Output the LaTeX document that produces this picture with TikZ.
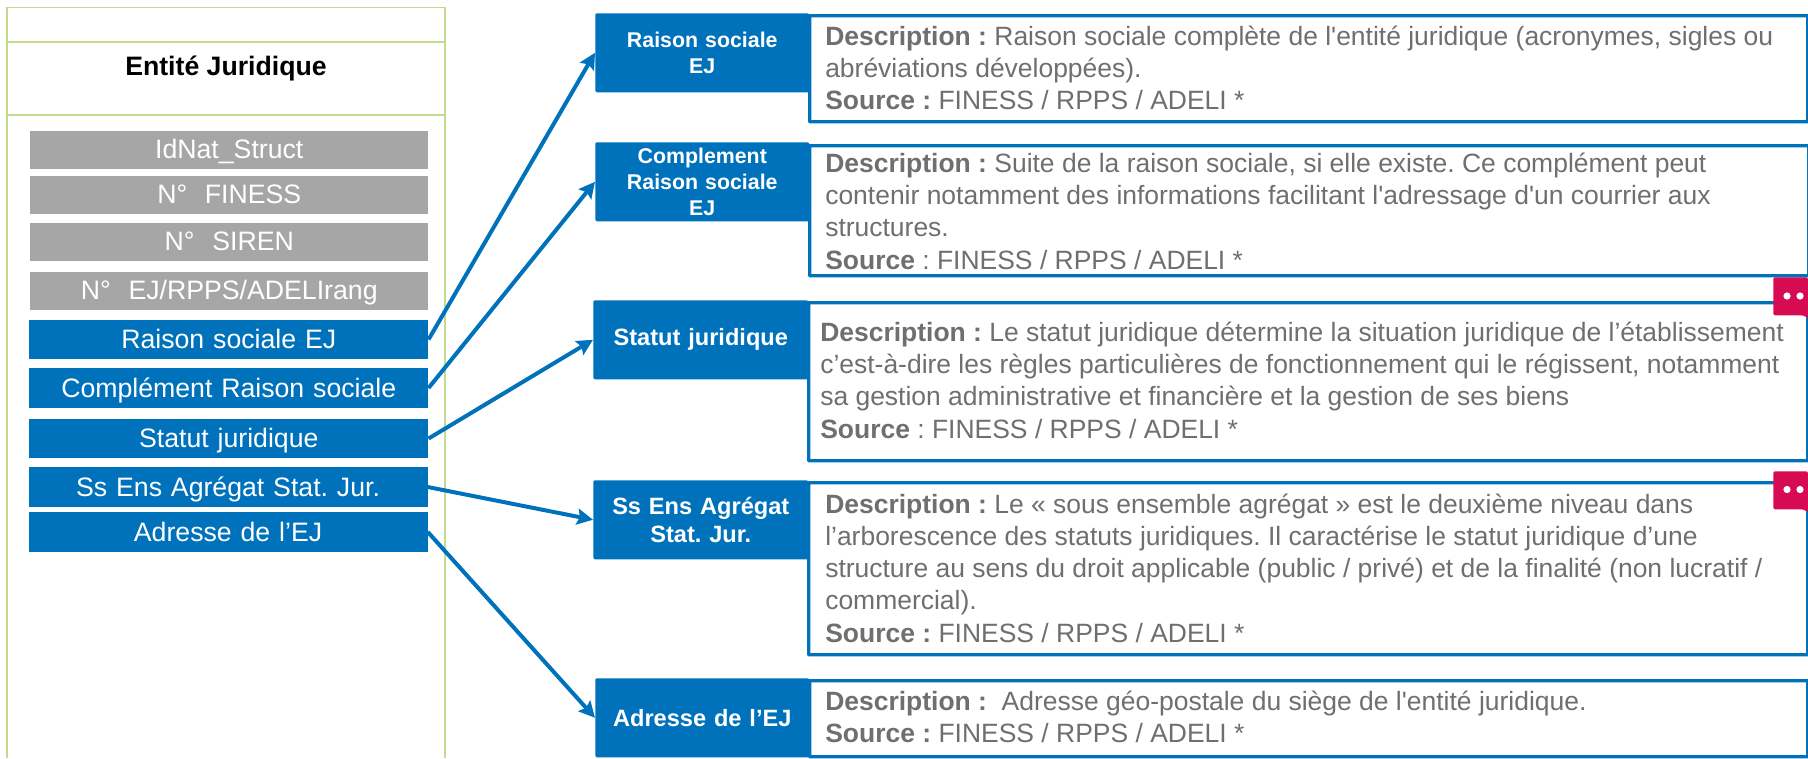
\documentclass[tikz,border=0pt]{standalone}
\usepackage{fontspec}
\setmainfont{Liberation Sans}[Ligatures=TeXOff]
\usetikzlibrary{arrows.meta}
\definecolor{bleu}{HTML}{0072BB}
\definecolor{gris}{HTML}{A6A6A6}
\definecolor{vert}{HTML}{C3DC8C}
\definecolor{txt}{HTML}{6F6F6F}
\definecolor{rose}{HTML}{D60B52}
\tikzset{
 x=0.75pt,y=-0.75pt,
 greyfield/.style={fill=gris,text=white,inner sep=0,text height=16.75pt,text depth=4pt,font=\fontsize{20}{24}\selectfont},
 bluefield/.style={fill=bleu,text=white,inner sep=0,text height=17.5pt,text depth=4pt,font=\fontsize{20}{24}\selectfont},
 head/.style={fill=bleu,text=white,inner sep=0,rounded corners=1pt,align=center,font=\fontsize{16}{19.5}\selectfont\bfseries},
 headbig/.style={head,font=\fontsize{17.7}{21}\selectfont\bfseries},
 descbox/.style={draw=bleu,line width=2.6pt,fill=white,inner sep=0,rounded corners=0.5pt},
 desctext/.style={text=txt,anchor=west,align=left,inner sep=0,font=\fontsize{19.85}{24.2}\selectfont},
 link/.style={draw=bleu,line width=3pt,-{Stealth[length=12pt,width=12pt,inset=2pt]}},
 pastille/.style={fill=rose,rounded corners=1.5pt,inner sep=0,minimum width=26pt,minimum height=28.5pt},
 frame/.style={draw=vert,line width=1.3pt},
}
\newcommand{\rectnode}[6]{\node[#1,minimum width=#4*0.75pt,minimum height=#5*0.75pt,text width=#4*0.75pt,align=center,anchor=north west] (#2) at #3 {#6};}
\begin{document}
\frenchspacing
\begin{tikzpicture}
\useasboundingbox (0,0) rectangle (1808,758);
\fill[white] (0,0) rectangle (1808,758);
% left frame
\draw[frame] (7,758) -- (7,7.5) -- (445,7.5) -- (445,758);
\draw[frame] (7,42) -- (445,42);
\draw[frame] (7,115) -- (445,115);
\node[font=\fontsize{20}{24}\selectfont\bfseries,inner sep=0] (titre) at (226,68) {Entité Juridique};
% grey fields
\rectnode{greyfield}{g1}{(30,131)}{398}{38}{IdNat\_Struct}
\rectnode{greyfield}{g2}{(30,176)}{398}{38}{N°\ \ FINESS}
\rectnode{greyfield}{g3}{(30,223)}{398}{38}{N°\ \ SIREN}
\rectnode{greyfield}{g4}{(30,272)}{398}{38}{N°\ \ EJ/RPPS/ADELIrang}
% blue fields
\rectnode{bluefield}{b1}{(29,319.5)}{399}{39.5}{Raison sociale EJ}
\rectnode{bluefield}{b2}{(29,368)}{399}{39.5}{Complément Raison sociale}
\rectnode{bluefield}{b3}{(29,418.5)}{399}{39.5}{Statut juridique}
\rectnode{bluefield}{b4}{(28.3,467)}{399}{39.5}{Ss Ens Agrégat Stat. Jur.}
\rectnode{bluefield}{b5}{(28.3,512)}{399}{39.5}{Adresse de l’EJ}
% description boxes
\node[descbox,minimum width=998*0.75pt,minimum height=106*0.75pt,anchor=north west] (d1) at (808,14) {};
\node[descbox,minimum width=999*0.75pt,minimum height=130*0.75pt,anchor=north west] (d2) at (808,144) {};
\node[descbox,minimum width=999*0.75pt,minimum height=158*0.75pt,anchor=north west] (d3) at (807,301) {};
\node[descbox,minimum width=999*0.75pt,minimum height=172*0.75pt,anchor=north west] (d4) at (807,481) {};
\node[descbox,minimum width=998*0.75pt,minimum height=76*0.75pt,anchor=north west] (d5) at (808,679) {};
% heads
\rectnode{head}{h1}{(595,13)}{214}{79}{Raison sociale\\EJ}
\rectnode{head}{h2}{(595,142)}{214}{79}{Complement\\Raison sociale\\EJ}
\rectnode{headbig}{h3}{(593,300)}{215}{79}{\raisebox{2.2pt}{Statut juridique}}
\rectnode{headbig}{h4}{(593,480)}{215}{79}{Ss Ens Agrégat\\Stat. Jur.}
\rectnode{headbig}{h5}{(595,678)}{214}{79}{Adresse de l’EJ}
% texts
\node[desctext] (t1) at (825,68) {\textbf{Description :} Raison sociale complète de l'entité juridique (acronymes, sigles ou\\abréviations développées).\\\textbf{Source :} FINESS / RPPS / ADELI *};
\node[desctext] (t2) at (825,211) {\textbf{Description :} Suite de la raison sociale, si elle existe. Ce complément peut\\contenir notamment des informations facilitant l'adressage d'un courrier aux\\structures.\\\textbf{Source} : FINESS / RPPS / ADELI *};
\node[desctext] (t3) at (820,380) {\textbf{Description :} Le statut juridique détermine la situation juridique de l’établissement\\c’est-à-dire les règles particulières de fonctionnement qui le régissent, notamment\\sa gestion administrative et financière et la gestion de ses biens\\\textbf{Source} : FINESS / RPPS / ADELI *};
\node[desctext] (t4) at (825,568) {\textbf{Description :} Le « sous ensemble agrégat » est le deuxième niveau dans\\l’arborescence des statuts juridiques. Il caractérise le statut juridique d’une\\structure au sens du droit applicable (public / privé) et de la finalité (non lucratif /\\commercial).\\\textbf{Source :} FINESS / RPPS / ADELI *};
\node[desctext] (t5) at (825,717) {\textbf{Description :}\ \ Adresse géo-postale du siège de l'entité juridique.\\\textbf{Source :} FINESS / RPPS / ADELI *};
% pastilles
\node[pastille,anchor=north west] (p1) at (1773,277) {};
\node[pastille,anchor=north west] (p2) at (1773,471) {};
\fill[rose] (1800,314) -- (1808,314) -- (1808,318) -- cycle;
\fill[rose] (1800,508) -- (1808,508) -- (1808,512) -- cycle;
\fill[white] (1787,296) circle (3.6) (1800,296) circle (3.6);
\fill[white] (1787,489.5) circle (3.6) (1800,489.5) circle (3.6);
% connectors
\draw[link] (b1.east) -- (h1.west);
\draw[link] (b2.east) -- (h2.west);
\draw[link] (b3.east) -- (h3.west);
\draw[link] (b4.east) -- (h4.west);
\draw[link] (b5.east) -- (h5.west);
\end{tikzpicture}
\end{document}
